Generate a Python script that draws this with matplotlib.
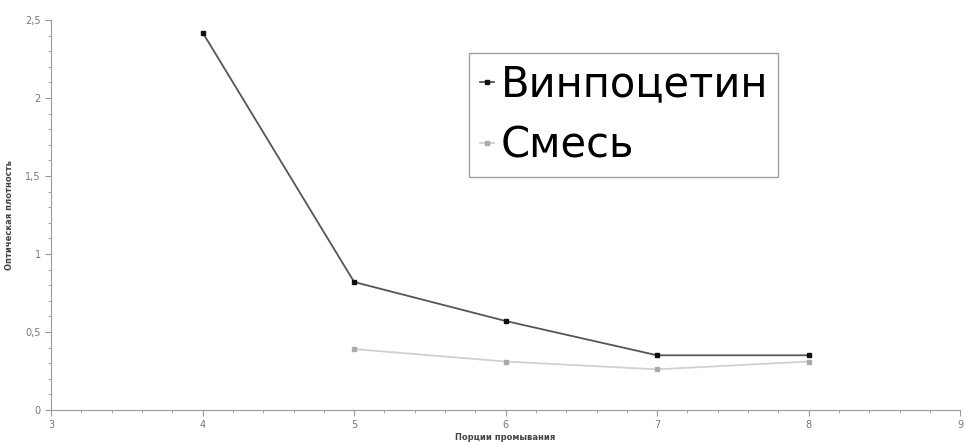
import matplotlib
matplotlib.use("Agg")
from matplotlib import pyplot as plt
from matplotlib.ticker import MultipleLocator, FuncFormatter

x_vinp = [4, 5, 6, 7, 8]
y_vinp = [2.42, 0.82, 0.57, 0.35, 0.35]
x_mix = [5, 6, 7, 8]
y_mix = [0.39, 0.31, 0.26, 0.31]

fig = plt.figure(figsize=(9.65, 4.46), dpi=100)
ax = fig.add_axes([0.053, 0.081, 0.942, 0.874])

ax.plot(x_vinp, y_vinp, color="#555555", lw=1.3, marker="s", ms=2.5,
        mfc="#111111", mec="#111111", label="Винпоцетин")
ax.plot(x_mix, y_mix, color="#d0d0d0", lw=1.3, marker="s", ms=2.5,
        mfc="#aaaaaa", mec="#aaaaaa", label="Смесь")

ax.set_xlim(3, 9)
ax.set_ylim(0, 2.5)
ax.xaxis.set_major_locator(MultipleLocator(1))
ax.xaxis.set_minor_locator(MultipleLocator(0.2))
ax.yaxis.set_major_locator(MultipleLocator(0.5))
ax.yaxis.set_minor_locator(MultipleLocator(0.1))
ax.yaxis.set_major_formatter(FuncFormatter(lambda v, p: f"{v:g}".replace(".", ",")))

for s in ["top", "right"]:
    ax.spines[s].set_visible(False)
for s in ["left", "bottom"]:
    ax.spines[s].set_color("#999999")
ax.tick_params(which="both", colors="#999999", labelsize=7, labelcolor="#777777")
ax.tick_params(which="major", length=4)
ax.tick_params(which="minor", length=2)

ax.set_xlabel("Порции промывания", fontsize=6, fontweight="bold", color="#444444", labelpad=2)
ax.set_ylabel("Оптическая плотность", fontsize=6, fontweight="bold", color="#444444", labelpad=8)

leg = ax.legend(loc="upper left", bbox_to_anchor=(0.46, 0.915), fontsize=30,
                frameon=True, fancybox=False, handlelength=0.35, handletextpad=0.15,
                borderpad=0.25, labelspacing=0.45, borderaxespad=0)
leg.get_frame().set_edgecolor("#888888")
leg.get_frame().set_linewidth(1.0)

fig.savefig("out.png", dpi=100)
